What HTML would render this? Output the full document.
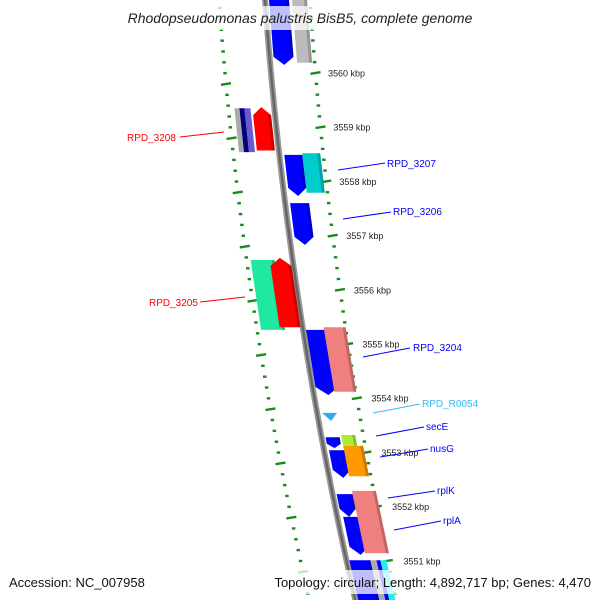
<!DOCTYPE html>
<html><head><meta charset="utf-8"><style>
html,body{margin:0;padding:0;background:#fff}
svg{display:block;font-family:"Liberation Sans","DejaVu Sans",sans-serif}
</style></head><body>
<svg id="map" width="600" height="600" viewBox="0 0 600 600" xmlns="http://www.w3.org/2000/svg">
<rect width="600" height="600" fill="#fff"/>
<g id="ticks"></g>
<g id="backbone"></g>
<g id="features"></g>
<g id="labels"></g>
<rect x="110" y="6" width="385" height="24" fill="#fff" opacity="0.75"/>
<text x="300" y="23" text-anchor="middle" font-size="14" font-style="italic" fill="#222">Rhodopseudomonas palustris BisB5, complete genome</text>
<rect x="0" y="570" width="600" height="24" fill="#fff" opacity="0.75"/>
<text x="9" y="587" font-size="13" fill="#111">Accession: NC_007958</text>
<text x="591" y="587" text-anchor="end" font-size="13" fill="#111">Topology: circular; Length: 4,892,717 bp; Genes: 4,470</text>
</svg>
<script>
const tickStart = 3549.6;
const tickEnd = 3561.4;
const majorTicks = [3551,3552,3553,3554,3555,3556,3557,3558,3559,3560];
const featNames = ["f1","f2","f3a","f3b","f3c","f4","f5","f6","f7","f8","f9","f10","f11","f12","f13","f14","f15","f16","f17","f18","f19","f20a","f20b","f20c","f20d"];
const featTop = [3561.44,3561.44,3559.35,3559.35,3559.35,3559.37,3558.49,3558.52,3557.60,3556.55,3556.59,3555.26,3555.31,3553.73,3553.28,3553.32,3553.04,3553.12,3552.23,3551.81,3552.29,3551.01,3551.01,3551.01,3551.01];
const featBot = [3560.15,3560.19,3558.54,3558.54,3558.54,3558.57,3557.73,3557.79,3556.83,3555.26,3555.31,3554.06,3554.12,3553.58,3553.08,3553.12,3552.53,3552.56,3551.81,3551.11,3551.14,3550.18,3550.18,3550.18,3550.18];
const featO1 = [4,27,-40,-35,-30,-22,5,23,5,-42,-23,3,21,5,4,20,5,20,4,6,20,3,24,30,34];
const featO2 = [24,42,-35,-30,-24,-4,23,41,24,-18,-2,26,43,20,18,34,23,40,20,25,44,24,30,34,40];
const featColor = ["#0000ff","#bbbbbb","#aaaaaa","#000080","#6a5acd","#ff0000","#0000ff","#00cccc","#0000ff","#20e8a0","#ff0000","#0000ff","#f08080","#33aaee","#0000ff","#aaee33","#0000ff","#ff9900","#0000ff","#0000ff","#f08080","#0000ff","#aaaaaa","#0000ff","#22eeee"];
const featArrow = ["down","none","none","none","none","up","down","none","down","none","up","down","none","tri","down","none","down","none","down","down","none","none","none","none","none"];
const labelText = ["RPD_3208","RPD_3207","RPD_3206","RPD_3205","RPD_3204","RPD_R0054","secE","nusG","rplK","rplA"];
const labelColor = ["#ff0000","#0000ff","#0000ff","#ff0000","#0000ff","#33bbee","#0000ff","#0000ff","#0000ff","#0000ff"];
const labelX = [127,387,393,149,413,422,426,430,437,443];
const labelY = [137,163,211,302,347,403,426,448,490,520];
const lineX1 = [224,338,343,245,363,373,376,380,388,394];
const lineY1 = [132,170,219,297,357,413,436,457,498,530];
const lineX2 = [180,385,391,200,410,420,424,428,435,441];
const lineY2 = [137,163,212,302,348,404,427,449,491,521];

const NS="http://www.w3.org/2000/svg";
function bx(y){return 265+0.0725*y+1.3e-4*y*y;}
function ky(k){return 73+(3560-k)*54.2;}
function rOff(y){return 45-4*(y/600);}
function mk(tag,attrs,parent){const e=document.createElementNS(NS,tag);for(const k in attrs)e.setAttribute(k,attrs[k]);parent.appendChild(e);return e;}

const bb=document.getElementById('backbone');
let pts=[];for(let y=-5;y<=605;y+=5)pts.push(bx(y).toFixed(1)+","+y);
const b1=mk('polyline',{points:pts.join(' '),fill:'none',stroke:'#999',"stroke-width":6},bb);


const b2=mk('polyline',{points:pts.join(' '),fill:'none',stroke:'#666',"stroke-width":2.5},bb);



const tg=document.getElementById('ticks');
for(let i=0;;i++){
  const k=+(tickStart+i*0.2).toFixed(1); if(k>tickEnd)break;
  const major=majorTicks.some(m=>Math.abs(m-k)<0.01);
  const y=ky(k); const len=major?10:3.5;
  const xr=bx(y)+rOff(y);
  const t=mk('line',{x1:xr-len/2,y1:y+(major?0.8:0),x2:xr+len/2,y2:y-(major?0.8:0),stroke:'#1a8a1a',"stroke-width":2.4},tg);
  
  
  const yl=y+11; const xl=bx(yl)-46;
  const t2=mk('line',{x1:xl-len/2,y1:yl+(major?0.8:0),x2:xl+len/2,y2:yl-(major?0.8:0),stroke:'#1a8a1a',"stroke-width":2.4},tg);
  
  
  if(major){
    const tx=mk('text',{x:bx(y)+57,y:y+3.5,"font-size":9,fill:'#222'},tg);
    tx.textContent=k+" kbp";
    
    
  }
}

const fg=document.getElementById('features');
for(let i=0;i<featNames.length;i++){
  const y1=ky(featTop[i]), y2=ky(featBot[i]);
  const o1=featO1[i], o2=featO2[i], a=featArrow[i];
  const X=(y,o)=>(bx(y)+o).toFixed(1);
  let p;
  const h=Math.min(8,(y2-y1)*0.4);
  if(a==="down"){
    const ym=y2-h, mid=(o1+o2)/2;
    p=[X(y1,o1)+","+y1,X(y1,o2)+","+y1,X(ym,o2)+","+ym,X(y2,mid)+","+y2,X(ym,o1)+","+ym];
  }else if(a==="up"){
    const ym=y1+h, mid=(o1+o2)/2;
    p=[X(y1,mid)+","+y1,X(ym,o2)+","+ym,X(y2,o2)+","+y2,X(y2,o1)+","+y2,X(ym,o1)+","+ym];
  }else if(a==="tri"){
    const mid=(o1+o2)/2;
    p=[X(y1,o1)+","+y1,X(y1,o2)+","+y1,X(y2,mid)+","+y2];
  }else{
    p=[X(y1,o1)+","+y1,X(y1,o2)+","+y1,X(y2,o2)+","+y2,X(y2,o1)+","+y2];
  }
  const e=mk('polygon',{points:p.join(' '),fill:featColor[i]},fg);
  
  
  if(a!=="tri" && o2-o1>8){
    const sy2=(a==="down")?y2-h:y2, sy1=(a==="up")?y1+h:y1;
    const s=mk('polygon',{points:[X(sy1,o2-3)+","+sy1,X(sy1,o2)+","+sy1,X(sy2,o2)+","+sy2,X(sy2,o2-3)+","+sy2].join(' '),fill:'#000',opacity:0.2},fg);
    
    
  }
}

const lg=document.getElementById('labels');
for(let i=0;i<labelText.length;i++){
  const l=mk('line',{x1:lineX1[i],y1:lineY1[i],x2:lineX2[i],y2:lineY2[i],stroke:labelColor[i],"stroke-width":1},lg);
  
  
  const t=mk('text',{x:labelX[i],y:labelY[i]+4,"font-size":10,fill:labelColor[i]},lg);
  t.textContent=labelText[i];
  
  
}
</script>
</body></html>
